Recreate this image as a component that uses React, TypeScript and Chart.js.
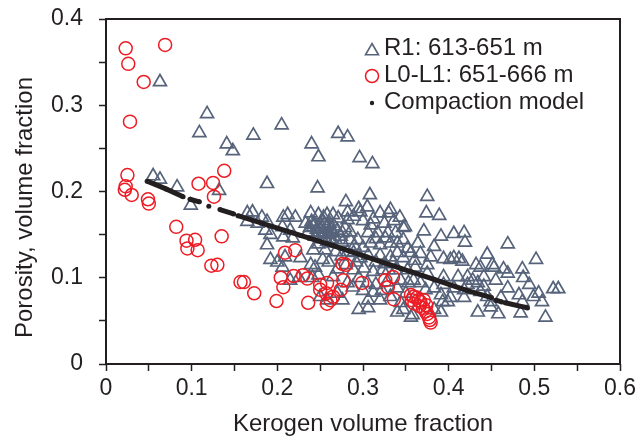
import React, { useEffect, useRef } from 'react';
import { Chart, registerables } from 'chart.js';

Chart.register(...registerables);

const FONT = '"Liberation Sans", Arial, Helvetica, sans-serif';
const INK = '#231f20';
const TRI = '#56637a';
const RED = '#ed1c24';

const xTickLabels = ['0', '0.1', '0.2', '0.3', '0.4', '0.5', '0.6'];
const yTickLabels = ['0', '0.1', '0.2', '0.3', '0.4'];
const seriesNames = ['R1: 613-651 m', 'L0-L1: 651-666 m', 'Compaction model'];
const xTitle = 'Kerogen volume fraction';
const yTitle = 'Porosity, volume fraction';

// R1: 613-651 m (triangles)
const r1X = [
  0.063, 0.118, 0.109, 0.141, 0.148, 0.172, 0.205, 0.240, 0.248, 0.271, 0.282, 0.296, 0.311,
  0.055, 0.063, 0.083, 0.132, 0.188, 0.247, 0.280, 0.099, 0.308, 0.305, 0.295, 0.332, 0.375,
  0.374, 0.389,
  0.469, 0.502, 0.522, 0.528, 0.513, 0.486, 0.445, 0.418, 0.406, 0.419, 0.434, 0.458, 0.486,
  0.499, 0.509, 0.349, 0.371, 0.391, 0.347, 0.364, 0.383, 0.356, 0.379, 0.394, 0.402, 0.406,
  0.412, 0.416, 0.432, 0.437, 0.453, 0.464, 0.469, 0.487, 0.469, 0.455, 0.441, 0.441, 0.434,
  0.422, 0.411, 0.394, 0.375, 0.352, 0.361, 0.375, 0.344, 0.353, 0.383, 0.394, 0.406, 0.418,
  0.437, 0.445, 0.449, 0.461, 0.482, 0.505, 0.484, 0.449, 0.391, 0.393, 0.402, 0.418, 0.383,
  0.391, 0.356, 0.344, 0.347, 0.350, 0.367, 0.373, 0.451, 0.494, 0.428, 0.422, 0.399,
  0.297, 0.212, 0.221, 0.239, 0.248, 0.258, 0.271, 0.282, 0.320, 0.330, 0.309, 0.347, 0.233,
  0.242, 0.250, 0.258, 0.236, 0.247, 0.254, 0.265, 0.276, 0.285, 0.206, 0.215, 0.207, 0.218,
  0.268, 0.276, 0.285, 0.294, 0.306, 0.317, 0.329, 0.338, 0.309, 0.320, 0.332, 0.242, 0.256,
  0.253, 0.260, 0.244, 0.239, 0.289, 0.297, 0.306, 0.320, 0.332, 0.340, 0.347, 0.289, 0.301,
  0.312, 0.323, 0.330, 0.338, 0.282, 0.288, 0.306, 0.320, 0.332, 0.295, 0.306, 0.340, 0.358,
  0.215, 0.225, 0.206, 0.241, 0.248, 0.265, 0.250, 0.258, 0.270, 0.276, 0.295, 0.305, 0.359,
  0.227, 0.209, 0.165, 0.171, 0.182, 0.188, 0.165, 0.177, 0.186, 0.192, 0.188, 0.192, 0.200,
  0.207, 0.254, 0.265, 0.282, 0.289,
  0.240, 0.250, 0.255, 0.260, 0.262, 0.244, 0.252, 0.258, 0.266, 0.270, 0.274, 0.279, 0.264,
  0.248, 0.312, 0.325, 0.336, 0.343, 0.300, 0.315, 0.326, 0.340, 0.352, 0.360, 0.367, 0.335,
  0.325, 0.315, 0.300, 0.290, 0.282, 0.275, 0.268, 0.280, 0.292, 0.270, 0.315, 0.328, 0.340,
  0.312, 0.300, 0.322,
  0.243, 0.246, 0.251, 0.256, 0.261, 0.238, 0.253, 0.263,
];
const r1Y = [
  0.327, 0.290, 0.268, 0.255, 0.247, 0.265, 0.277, 0.255, 0.240, 0.267, 0.263, 0.239, 0.232,
  0.218, 0.214, 0.205, 0.201, 0.209, 0.204, 0.188, 0.184, 0.196, 0.182, 0.180, 0.179, 0.194,
  0.175, 0.172,
  0.139, 0.121, 0.087, 0.087, 0.054, 0.110, 0.127, 0.152, 0.151, 0.141, 0.060, 0.058, 0.072,
  0.078, 0.072, 0.159, 0.154, 0.148, 0.144, 0.140, 0.136, 0.129, 0.124, 0.122, 0.121, 0.123,
  0.122, 0.119, 0.115, 0.112, 0.112, 0.110, 0.105, 0.100, 0.088, 0.097, 0.101, 0.090, 0.094,
  0.101, 0.101, 0.101, 0.105, 0.109, 0.112, 0.115, 0.097, 0.094, 0.088, 0.092, 0.088, 0.086,
  0.084, 0.078, 0.072, 0.077, 0.080, 0.082, 0.059, 0.066, 0.080, 0.072, 0.077, 0.077, 0.063,
  0.060, 0.054, 0.071, 0.063, 0.082, 0.094, 0.086, 0.115, 0.092, 0.097, 0.092, 0.072,
  0.176, 0.173, 0.170, 0.175, 0.173, 0.173, 0.169, 0.167, 0.175, 0.175, 0.161, 0.158, 0.163,
  0.159, 0.161, 0.159, 0.153, 0.152, 0.153, 0.153, 0.152, 0.153, 0.159, 0.155, 0.147, 0.146,
  0.144, 0.141, 0.144, 0.144, 0.152, 0.152, 0.152, 0.152, 0.140, 0.138, 0.140, 0.132, 0.132,
  0.121, 0.118, 0.112, 0.115, 0.129, 0.123, 0.126, 0.126, 0.124, 0.129, 0.123, 0.109, 0.111,
  0.107, 0.109, 0.109, 0.109, 0.094, 0.089, 0.074, 0.074, 0.078, 0.063, 0.065, 0.060, 0.057,
  0.097, 0.100, 0.112, 0.100, 0.103, 0.101, 0.078, 0.074, 0.082, 0.074, 0.100, 0.094, 0.097,
  0.123, 0.124, 0.175, 0.176, 0.170, 0.165, 0.165, 0.163, 0.155, 0.150, 0.138, 0.121, 0.118,
  0.170, 0.170, 0.173, 0.176, 0.171,
  0.165, 0.156, 0.162, 0.150, 0.157, 0.148, 0.145, 0.142, 0.160, 0.155, 0.148, 0.158, 0.140,
  0.139, 0.168, 0.163, 0.166, 0.170, 0.166, 0.145, 0.146, 0.140, 0.134, 0.120, 0.128, 0.118,
  0.116, 0.118, 0.135, 0.137, 0.130, 0.125, 0.130, 0.115, 0.118, 0.110, 0.092, 0.095, 0.088,
  0.083, 0.085, 0.085,
  0.162, 0.156, 0.150, 0.146, 0.163, 0.158, 0.166, 0.145,
];

// L0-L1: 651-666 m (circles)
const l0X = [
  0.023, 0.069, 0.026, 0.044, 0.028, 0.025, 0.023, 0.022, 0.030, 0.049, 0.050, 0.108, 0.125,
  0.138, 0.126, 0.082, 0.094, 0.104, 0.095, 0.107, 0.135, 0.123, 0.130, 0.157, 0.161, 0.173,
  0.199, 0.204, 0.207, 0.209, 0.221, 0.219, 0.230, 0.235, 0.236, 0.250, 0.257, 0.258, 0.262,
  0.265, 0.274, 0.277, 0.276, 0.280, 0.258, 0.250, 0.299, 0.326, 0.335, 0.329, 0.336,
  0.356, 0.359, 0.363, 0.365, 0.367, 0.360, 0.366, 0.370, 0.373, 0.375, 0.377, 0.378, 0.379,
  0.374, 0.371, 0.357,
];
const l0Y = [
  0.366, 0.370, 0.348, 0.327, 0.281, 0.219, 0.206, 0.202, 0.196, 0.191, 0.186, 0.209, 0.210,
  0.224, 0.194, 0.159, 0.143, 0.144, 0.134, 0.132, 0.148, 0.114, 0.115, 0.095, 0.095, 0.082,
  0.073, 0.100, 0.089, 0.129, 0.132, 0.102, 0.103, 0.099, 0.071, 0.092, 0.082, 0.070, 0.074,
  0.078, 0.086, 0.097, 0.116, 0.115, 0.094, 0.086, 0.094, 0.097, 0.101, 0.089, 0.075,
  0.080, 0.078, 0.077, 0.074, 0.072, 0.070, 0.067, 0.065, 0.061, 0.058, 0.054, 0.051, 0.048,
  0.068, 0.074, 0.074,
];

// Compaction model (null = gap in the dotted trace)
const compX = [0.048, 0.070, 0.090, 0.094, 0.098, 0.109, 0.115, 0.120, 0.127, 0.133, 0.149, 0.152, 0.154, 0.227, 0.266, 0.305, 0.344, 0.383, 0.422, 0.450, 0.452, 0.455, 0.462, 0.464, 0.466, 0.492];
const compY = [0.212, 0.203, 0.194, null, 0.191, 0.188, null, 0.183, null, 0.179, 0.174, null, 0.172, 0.149, 0.137, 0.124, 0.111, 0.098, 0.085, 0.077, null, 0.074, 0.072, null, 0.071, 0.065];

const toPoints = (xs: number[], ys: (number | null)[]) => xs.map((x, i) => ({ x, y: ys[i] }));

function tickLabel(labels: string[]) {
  return (value: any, index: number) => (index % 2 === 0 ? labels[index / 2] ?? '' : '');
}

const frameAndLegend = {
  id: 'frameAndLegend',
  afterDatasetsDraw(chart: any) {
    const { ctx, chartArea } = chart;
    const { left, top, right, bottom } = chartArea;
    ctx.save();
    ctx.strokeStyle = INK;
    ctx.lineWidth = 2;
    ctx.strokeRect(left, top, right - left, bottom - top);

    const lx = left + 266;
    const ly = top + 30;
    const gap = 27;
    // triangle
    ctx.lineWidth = 1.6;
    ctx.strokeStyle = TRI;
    const r = 7.5;
    const cy0 = ly + 2;
    ctx.beginPath();
    ctx.moveTo(lx, cy0 - r);
    ctx.lineTo(lx + r * Math.sin((2 * Math.PI) / 3), cy0 + r / 2);
    ctx.lineTo(lx - r * Math.sin((2 * Math.PI) / 3), cy0 + r / 2);
    ctx.closePath();
    ctx.stroke();
    // circle
    ctx.strokeStyle = RED;
    ctx.lineWidth = 1.5;
    ctx.beginPath();
    ctx.arc(lx, ly + gap, 6.5, 0, Math.PI * 2);
    ctx.stroke();
    // dot
    ctx.fillStyle = INK;
    ctx.beginPath();
    ctx.arc(lx, ly + 2 * gap, 2.2, 0, Math.PI * 2);
    ctx.fill();

    ctx.fillStyle = INK;
    ctx.font = `24px ${FONT}`;
    ctx.textBaseline = 'middle';
    ctx.textAlign = 'left';
    seriesNames.forEach((name, i) => {
      ctx.fillText(name, lx + 12, ly + i * gap - 1);
    });

    // y axis title
    ctx.save();
    ctx.translate(25, (top + bottom) / 2 + 16);
    ctx.rotate(-Math.PI / 2);
    ctx.textAlign = 'center';
    ctx.textBaseline = 'middle';
    ctx.font = `24px ${FONT}`;
    ctx.fillText(yTitle, 0, 0);
    ctx.restore();

    ctx.restore();
  },
};

export default function App() {
  const canvasRef = useRef<HTMLCanvasElement | null>(null);

  useEffect(() => {
    const canvas = canvasRef.current;
    if (!canvas) return;
    const chart = new Chart(canvas, {
      type: 'scatter',
      data: {
        datasets: [
          {
            label: seriesNames[2],
            data: toPoints(compX, compY),
            showLine: true,
            spanGaps: false,
            borderColor: INK,
            backgroundColor: INK,
            borderWidth: 5,
            pointRadius: 2.5,
            pointBorderWidth: 0,
            pointStyle: 'circle',
            order: 0,
          } as any,
          {
            label: seriesNames[1],
            data: toPoints(l0X, l0Y),
            pointStyle: 'circle',
            pointRadius: 6.5,
            borderWidth: 1.5,
            borderColor: RED,
            backgroundColor: 'rgba(0,0,0,0)',
            order: 1,
          },
          {
            label: seriesNames[0],
            data: toPoints(r1X, r1Y),
            pointStyle: 'triangle',
            pointRadius: 7.5,
            borderWidth: 1.7,
            borderColor: TRI,
            backgroundColor: 'rgba(0,0,0,0)',
            order: 2,
          },
        ],
      },
      options: {
        responsive: false,
        animation: false,
        events: [],
        layout: { padding: { top: 19, right: 24, left: 0, bottom: 0 } },
        plugins: {
          legend: { display: false },
          tooltip: { enabled: false },
        },
        scales: {
          x: {
            type: 'linear',
            min: 0,
            max: 0.6,
            afterFit: (s: any) => {
              s.height = 77;
              s.paddingLeft = 0;
              s.paddingRight = 0;
            },
            border: { display: false },
            grid: {
              drawOnChartArea: false,
              drawTicks: true,
              tickLength: 7,
              tickColor: INK,
              tickWidth: 1.5,
            },
            ticks: {
              stepSize: 0.05,
              autoSkip: false,
              maxRotation: 0,
              padding: 4,
              color: INK,
              font: { family: FONT, size: 23 },
              callback: tickLabel(xTickLabels),
            },
            title: {
              display: true,
              text: xTitle,
              color: INK,
              font: { family: FONT, size: 24 },
              padding: { top: 0, bottom: 2 },
            },
          },
          y: {
            type: 'linear',
            min: 0,
            max: 0.4,
            afterFit: (s: any) => {
              s.width = 106;
              s.paddingTop = 0;
              s.paddingBottom = 0;
            },
            border: { display: false },
            grid: {
              drawOnChartArea: false,
              drawTicks: true,
              tickLength: 7,
              tickColor: INK,
              tickWidth: 1.5,
            },
            ticks: {
              stepSize: 0.05,
              autoSkip: false,
              padding: 16,
              color: INK,
              font: { family: FONT, size: 23 },
              callback: tickLabel(yTickLabels),
            },
            title: { display: false, text: yTitle },
          },
        },
      },
      plugins: [frameAndLegend],
    });
    return () => chart.destroy();
  }, []);

  return (
    <div style={{ position: 'absolute', left: 0, top: 0, width: 644, height: 441, background: '#fff' }}>
      <canvas ref={canvasRef} width={644} height={441} style={{ display: 'block' }} />
    </div>
  );
}
